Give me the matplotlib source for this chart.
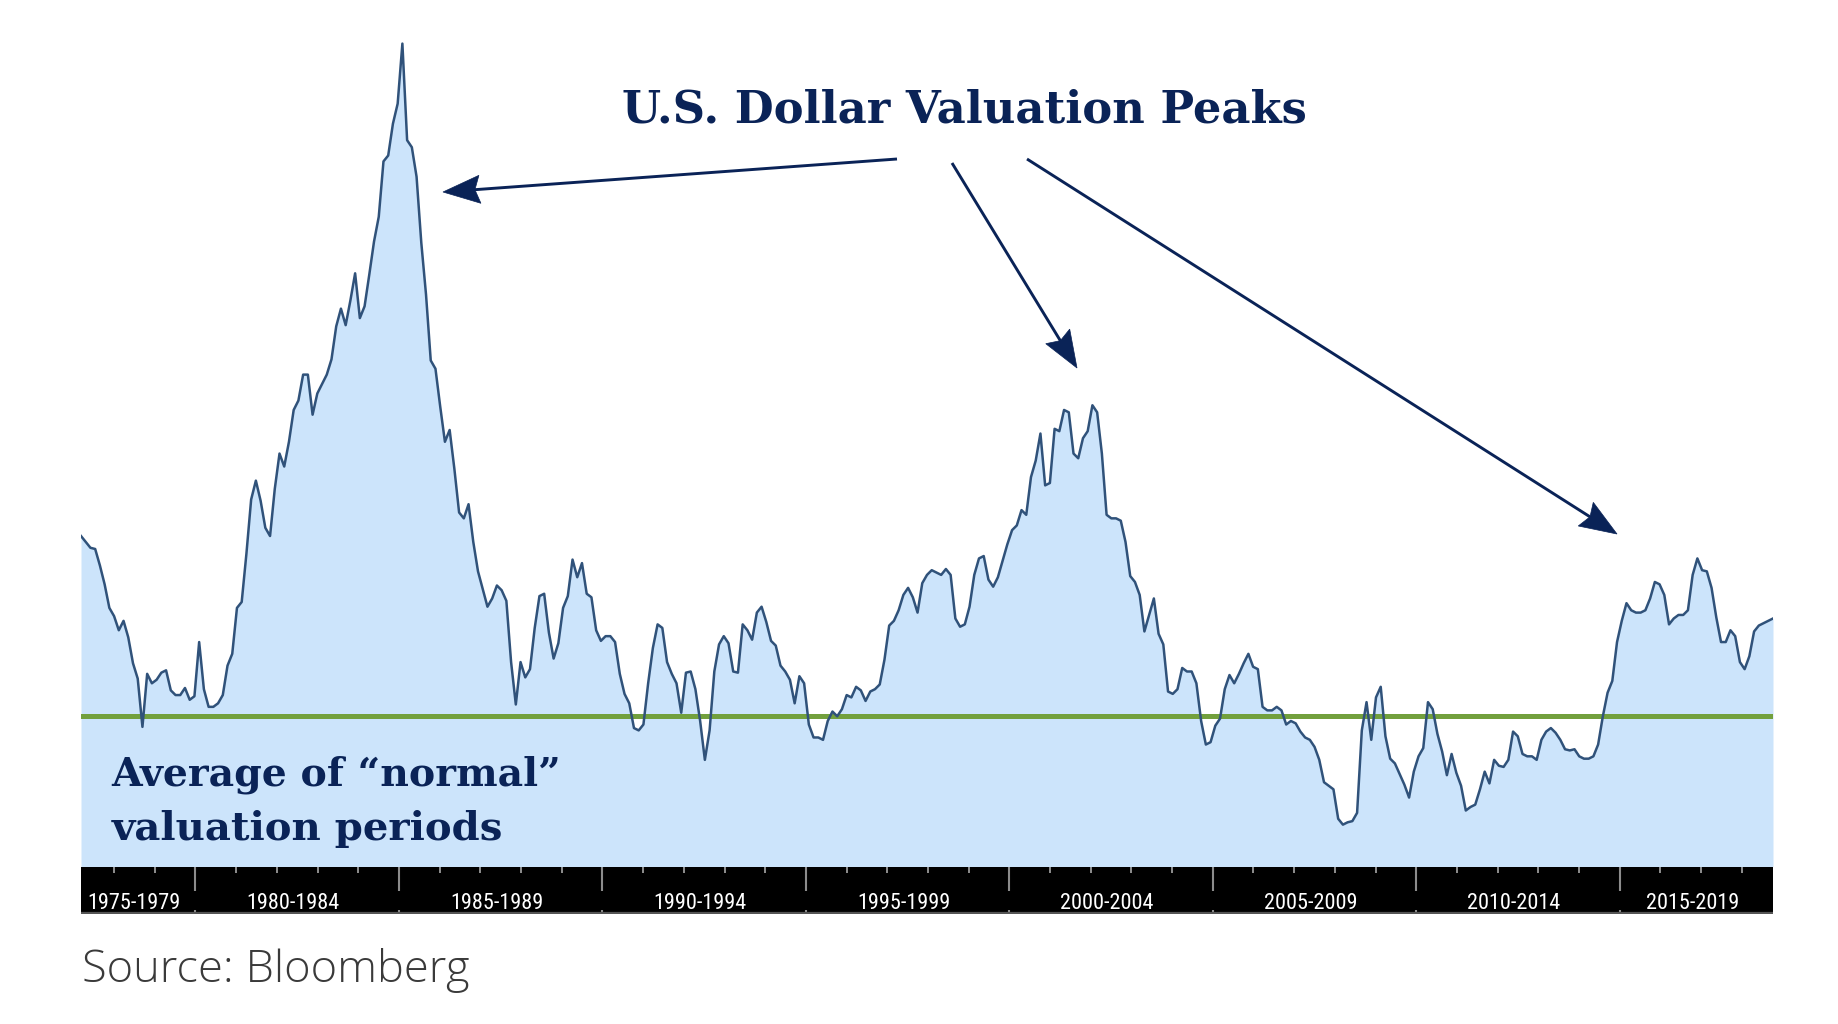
import matplotlib
matplotlib.use('Agg')
import matplotlib.pyplot as plt
import numpy as np
import pandas as pd
from matplotlib import font_manager as fm
from matplotlib.patches import Polygon
from matplotlib.lines import Line2D

W, H = 1838, 1024

# ---------------- data ----------------
start_date = '1977-03-10'
end_date = '2018-10-08'

index_values = [
    283, 278, 273, 272, 258, 242, 222, 215, 203, 211, 197, 175, 162, 121, 166, 158, 161, 167, 169, 152, 148, 148, 154, 144, 147,
    193, 153, 138, 138, 141, 148, 173, 183, 222, 227, 268, 314, 330, 313, 290, 283, 323, 353, 342, 363, 390, 398, 420, 420, 386,
    404, 412, 420, 433, 461, 476, 462, 483, 506, 468, 478, 505, 533, 554, 601, 606, 633, 650, 701, 619, 613, 588, 532, 488, 432,
    425, 393, 363, 373, 340, 303, 298, 310, 278, 253, 238, 223, 230, 241, 237, 228, 176, 140, 176, 163, 170, 205, 232, 234, 201,
    179, 192, 222, 232, 263, 248, 260, 234, 231, 203, 194, 198, 198, 193, 166, 149, 141, 120, 118, 123, 158, 188, 208, 205, 176,
    166, 158, 133, 167, 168, 153, 126, 93, 118, 168, 191, 198, 192, 168, 167, 208, 203, 195, 218, 223, 210, 194, 190, 173, 168,
    161, 141, 164, 158, 123, 112, 112, 110, 126, 134, 130, 136, 148, 146, 155, 152, 143, 151, 153, 157, 178, 207, 211, 220, 233,
    239, 231, 218, 243, 250, 254, 252, 250, 255, 250, 213, 206, 208, 223, 250, 264, 266, 246, 240, 248, 262, 276, 288, 292, 305,
    301, 333, 347, 370, 326, 328, 374, 372, 390, 388, 353, 349, 366, 372, 394, 388, 353, 301, 298, 298, 296, 278, 249, 244, 233,
    202, 216, 230, 200, 191, 151, 149, 153, 171, 168, 168, 158, 126, 106, 108, 122, 128, 153, 165, 158, 166, 175, 183, 172, 170,
    138, 135, 135, 138, 135, 123, 126, 124, 117, 112, 110, 104, 93, 74, 71, 68, 43, 38, 40, 41, 48, 118, 142, 110, 146,
    155, 113, 94, 90, 81, 72, 61, 83, 96, 103, 142, 136, 115, 100, 80, 98, 82, 71, 50, 53, 55, 68, 83, 73, 93,
    88, 87, 93, 117, 113, 98, 96, 96, 93, 110, 117, 120, 116, 110, 102, 101, 102, 96, 94, 94, 96, 106, 130, 150, 160,
    193, 211, 226, 220, 218, 218, 220, 230, 244, 242, 233, 208, 213, 216, 216, 220, 250, 264, 254, 253, 239, 214, 193, 193, 203,
    198, 176, 170, 181, 202, 207, 209, 211, 213,
]
normal_average = 130

period_starts = [1975, 1980, 1985, 1990, 1995, 2000, 2005, 2010, 2015]
period_labels = ['1975-1979', '1980-1984', '1985-1989', '1990-1994', '1995-1999',
                 '2000-2004', '2005-2009', '2010-2014', '2015-2019']

title_text = 'U.S. Dollar Valuation Peaks'
note_lines = ['Average of \u201cnormal\u201d', 'valuation periods']
source_text = 'Source: Bloomberg'

# ---------------- fonts ----------------
ttf = fm.fontManager.ttflist
names = {f.name for f in ttf}


def pick(*cands):
    for c in cands:
        if c in names:
            return c
    return 'DejaVu Sans'


def has_light(fam):
    for f in ttf:
        if f.name == fam:
            w = f.weight
            if isinstance(w, str):
                w = fm.weight_dict.get(w, 400)
            if w <= 300:
                return True
    return False


serif_fam = pick('Roboto Slab', 'DejaVu Serif Condensed', 'DejaVu Serif')
narrow_fam = pick('Liberation Sans Narrow', 'DejaVu Sans Condensed', 'Roboto Condensed', 'DejaVu Sans')
light_fam, light_w = 'DejaVu Sans', 'normal'
for cand in ['Open Sans', 'Lato', 'Roboto', 'Inter', 'Noto Sans']:
    if cand in names and has_light(cand):
        light_fam, light_w = cand, 'light'
        break

NAVY = '#0a2357'
FILL = '#cce4fb'
LINE = '#30527a'
GREEN = '#72a03d'

# ---------------- figure ----------------
fig = plt.figure(figsize=(W / 100, H / 100), dpi=100)
fig.patch.set_facecolor('white')


def fx(x):
    return x / W


def fy(y):
    return 1 - y / H


left_px, right_px = 81, 1773
plot_bottom_px = 866
bar_top_px, bar_bot_px = 867, 914

dates = pd.date_range(start_date, end_date, periods=len(index_values))
xmin, xmax = pd.Timestamp(start_date), pd.Timestamp(end_date)

ax = fig.add_axes([fx(left_px), fy(plot_bottom_px), (right_px - left_px) / W, plot_bottom_px / H])
ax.fill_between(dates, index_values, 0, color=FILL, lw=0, zorder=1)
ax.plot(dates, index_values, color=LINE, lw=1.8, zorder=3, solid_joinstyle='round')
ax.axhline(normal_average, color=GREEN, lw=3.6, zorder=2)
ax.set_xlim(xmin, xmax)
ax.set_ylim(2.9, 738)
ax.axis('off')

# ---------------- black period bar ----------------
axb = fig.add_axes([fx(left_px), fy(bar_bot_px), (right_px - left_px) / W, (bar_bot_px - bar_top_px) / H])
axb.set_facecolor('black')
axb.set_xlim(xmin, xmax)
axb.set_ylim(0, 1)
for s in axb.spines.values():
    s.set_visible(False)
axb.set_xticks([])
axb.set_yticks([])

bar_h = bar_bot_px - bar_top_px
years = list(range(1978, 2019))
minor = [pd.Timestamp(f'{y}-01-01') for y in years if y % 5 != 0]
major = [pd.Timestamp(f'{y}-01-01') for y in years if y % 5 == 0]
axb.vlines(minor, 1 - 6 / bar_h, 1, color='#9a9a9a', lw=1.3)
axb.vlines(major, 1 - 24 / bar_h, 1, color='#8c8c8c', lw=1.5)
axb.vlines(major, 0, 4 / bar_h, color='#8c8c8c', lw=1.5)
axb.axhline(0.02, color='#555555', lw=1.6)


def dec_year(ts):
    ts = pd.Timestamp(ts)
    y0 = pd.Timestamp(f'{ts.year}-01-01')
    y1 = pd.Timestamp(f'{ts.year + 1}-01-01')
    return ts.year + (ts - y0) / (y1 - y0)


def from_dec(d):
    y = int(np.floor(d))
    y0 = pd.Timestamp(f'{y}-01-01')
    y1 = pd.Timestamp(f'{y + 1}-01-01')
    return y0 + (y1 - y0) * (d - y)


dmin, dmax = dec_year(xmin), dec_year(xmax)
for s, lab in zip(period_starts, period_labels):
    lo, hi = max(s, dmin), min(s + 5, dmax)
    c = (lo + hi) / 2 - 0.1
    axb.text(from_dec(c), (bar_bot_px - 909) / bar_h, lab, color='white',
             ha='center', va='baseline', fontsize=16, family=[narrow_fam, 'DejaVu Sans'])

# ---------------- texts ----------------
t_title = fig.text(fx(622), fy(122.7), title_text, color=NAVY, fontsize=36,
                   fontweight='bold', family=[serif_fam, 'DejaVu Serif'], ha='left', va='baseline')
t_n1 = fig.text(fx(111.5), fy(785), note_lines[0], color=NAVY, fontsize=30,
                fontweight='bold', family=[serif_fam, 'DejaVu Serif'], ha='left', va='baseline')
t_n2 = fig.text(fx(111.5), fy(840), note_lines[1], color=NAVY, fontsize=30,
                fontweight='bold', family=[serif_fam, 'DejaVu Serif'], ha='left', va='baseline')
t_src = fig.text(fx(82), fy(981.7), source_text, color='#3a3a3a', fontsize=29,
                 fontweight=light_w, family=[light_fam, 'DejaVu Sans'], ha='left', va='baseline')

fig.canvas.draw()
rend = fig.canvas.get_renderer()
for t, target in [(t_title, 685), (t_n1, 449), (t_n2, 392), (t_src, 388)]:
    bb = t.get_window_extent(rend)
    t.set_fontsize(t.get_fontsize() * target / bb.width)

# ---------------- arrows ----------------


def arrow(tail, tip, L=37, Wh=28, notch=5, lw=2.1):
    tail = np.array(tail, float)
    tip = np.array(tip, float)
    d = tip - tail
    d = d / np.hypot(*d)
    n = np.array([-d[1], d[0]])
    base = tip - d * L
    lpt = base + n * Wh / 2
    rpt = base - n * Wh / 2
    npt = tip - d * (L - notch)
    fig.add_artist(Line2D([fx(tail[0]), fx(npt[0] + d[0] * 2)], [fy(tail[1]), fy(npt[1] + d[1] * 2)],
                          color=NAVY, lw=lw, solid_capstyle='butt'))
    pts = [(fx(p[0]), fy(p[1])) for p in (tip, lpt, npt, rpt)]
    fig.add_artist(Polygon(pts, closed=True, facecolor=NAVY, edgecolor=NAVY, lw=0.5))


arrow((897, 159), (443, 192))
arrow((952, 163), (1077, 368))
arrow((1027, 159), (1617, 534))

fig.savefig('out.png', dpi=100, facecolor='white')
